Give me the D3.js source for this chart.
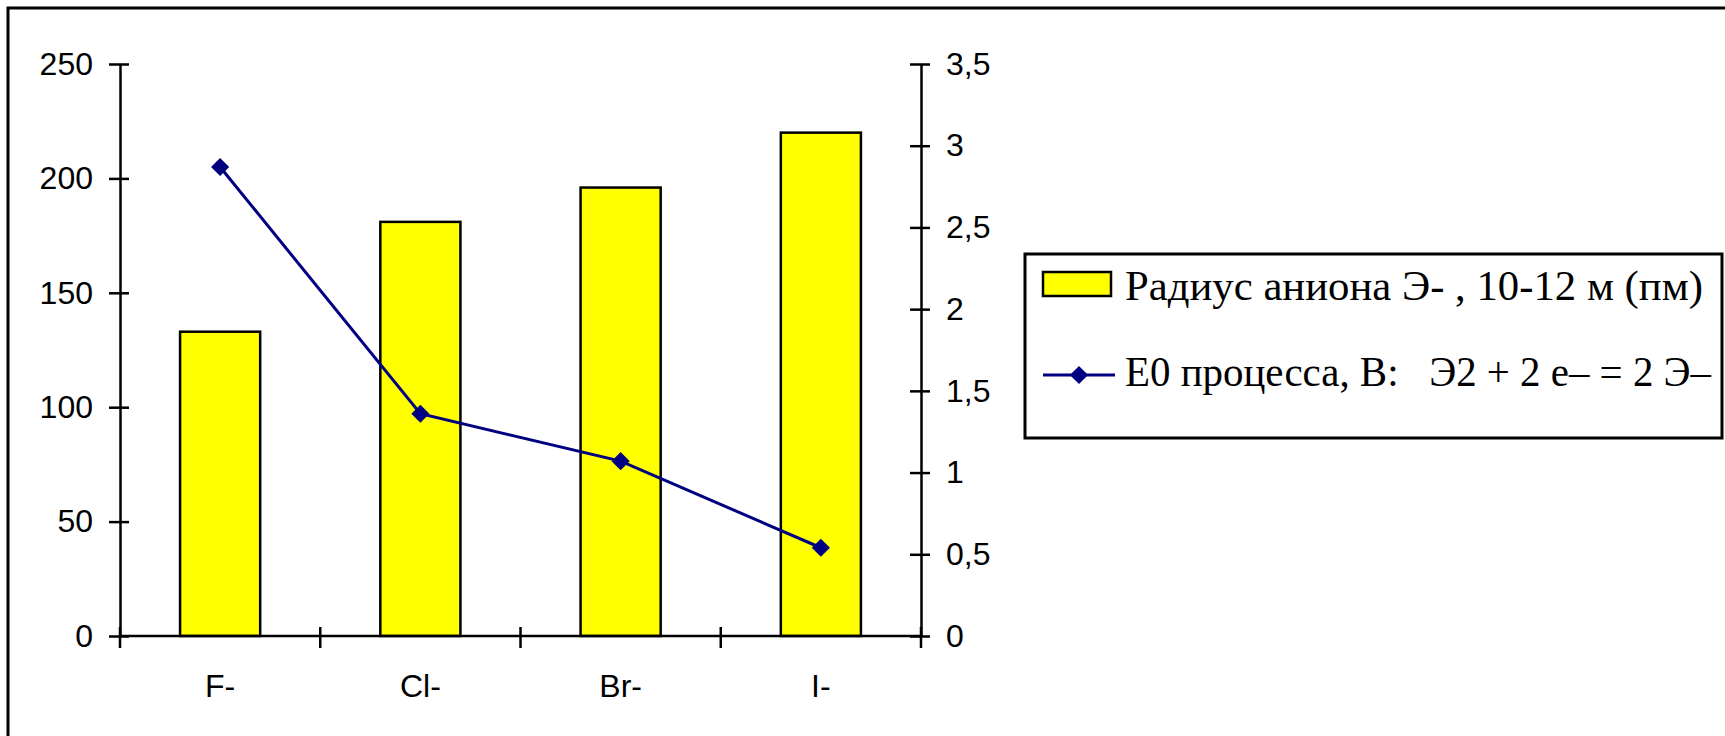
<!DOCTYPE html>
<html>
<head>
<meta charset="utf-8">
<script src="https://cdn.jsdelivr.net/npm/d3@7"></script>
<style>
  body { margin: 0; background: #fff; }
  svg { display: block; }
  .serif { font-family: 'Liberation Serif', 'DejaVu Serif', 'Times New Roman', serif; }
</style>
</head>
<body>
<script>
const categories = ['F-', 'Cl-', 'Br-', 'I-'];
const radiusValues = [133, 181, 196, 220];
const potentialValues = [2.87, 1.36, 1.07, 0.54];
const leftTicks = [0, 50, 100, 150, 200, 250];
const rightTicks = [0, 0.5, 1, 1.5, 2, 2.5, 3, 3.5];
const barLabel = 'Радиус аниона Э- , 10-12 м (пм)';
const lineLabel = 'Е0 процесса, В:   Э2 + 2 е– = 2 Э–';

const W = 1725, H = 736;
const plot = { left: 120, right: 921, top: 64, bottom: 636 };
const sans = '"Liberation Sans", Arial, sans-serif';

const svg = d3.select('body').append('svg')
  .attr('width', W)
  .attr('height', H);

// outer frame (right and bottom edges fall outside the picture)
svg.append('rect')
  .attr('x', 8).attr('y', 8)
  .attr('width', W + 20).attr('height', H + 20)
  .attr('fill', 'none')
  .attr('stroke', '#000')
  .attr('stroke-width', 3);

const x = d3.scaleBand()
  .domain(categories)
  .range([plot.left, plot.right])
  .paddingInner(0.6)
  .paddingOuter(0.3);

const yLeft = d3.scaleLinear().domain([0, 250]).range([plot.bottom, plot.top]);
const yRight = d3.scaleLinear().domain([0, 3.5]).range([plot.bottom, plot.top]);

// bars
svg.selectAll('rect.bar')
  .data(radiusValues)
  .enter()
  .append('rect')
  .attr('class', 'bar')
  .attr('x', (d, i) => x(categories[i]))
  .attr('y', d => yLeft(d))
  .attr('width', x.bandwidth())
  .attr('height', d => yLeft(0) - yLeft(d))
  .attr('fill', '#ffff00')
  .attr('stroke', '#000')
  .attr('stroke-width', 2.5);

// left axis
const leftAxis = svg.append('g')
  .attr('transform', `translate(${plot.left},0)`)
  .call(d3.axisLeft(yLeft).tickValues(leftTicks).tickSize(11).tickSizeOuter(0).tickPadding(16));
leftAxis.selectAll('.tick line').attr('x1', 9);

// right axis
const fmt = d => String(d).replace('.', ',');
const rightAxis = svg.append('g')
  .attr('transform', `translate(${plot.right},0)`)
  .call(d3.axisRight(yRight).tickValues(rightTicks).tickFormat(fmt).tickSize(9).tickSizeOuter(0).tickPadding(16));
rightAxis.selectAll('.tick line').attr('x1', -11);

// category axis: baseline, boundary ticks, labels
const step = x.step();
const bounds = d3.range(categories.length + 1).map(i => plot.left + i * step);

svg.append('line')
  .attr('x1', plot.left).attr('x2', plot.right)
  .attr('y1', yLeft(0)).attr('y2', yLeft(0))
  .attr('stroke', '#000')
  .attr('stroke-width', 2.5);

svg.selectAll('line.xtick')
  .data(bounds)
  .enter()
  .append('line')
  .attr('class', 'xtick')
  .attr('x1', d => d).attr('x2', d => d)
  .attr('y1', yLeft(0) - 9).attr('y2', yLeft(0) + 12)
  .attr('stroke', '#000')
  .attr('stroke-width', 2.5);

svg.selectAll('text.xlab')
  .data(categories)
  .enter()
  .append('text')
  .attr('class', 'xlab')
  .attr('x', d => x(d) + x.bandwidth() / 2)
  .attr('y', yLeft(0) + 61)
  .attr('text-anchor', 'middle')
  .style('font-family', sans)
  .style('font-size', '32px')
  .text(d => d);

svg.selectAll('.domain, .tick line')
  .attr('stroke', '#000')
  .attr('stroke-width', 2.5);
svg.selectAll('.tick text')
  .style('font-family', sans)
  .style('font-size', '32px')
  .attr('fill', '#000');

// line series
const cx = i => x(categories[i]) + x.bandwidth() / 2;
const line = d3.line()
  .x((d, i) => cx(i))
  .y(d => yRight(d));

svg.append('path')
  .datum(potentialValues)
  .attr('fill', 'none')
  .attr('stroke', '#000080')
  .attr('stroke-width', 3)
  .attr('d', line);

const diamond = d3.symbol().type(d3.symbolSquare).size(165);

svg.selectAll('path.marker')
  .data(potentialValues)
  .enter()
  .append('path')
  .attr('class', 'marker')
  .attr('d', diamond)
  .attr('transform', (d, i) => `translate(${cx(i)},${yRight(d)}) rotate(45)`)
  .attr('fill', '#000080');

// legend
const legend = svg.append('g').attr('transform', 'translate(1025,254)');

legend.append('rect')
  .attr('x', 0).attr('y', 0)
  .attr('width', 697).attr('height', 184)
  .attr('fill', '#fff')
  .attr('stroke', '#000')
  .attr('stroke-width', 3);

legend.append('rect')
  .attr('x', 18).attr('y', 18)
  .attr('width', 68).attr('height', 24)
  .attr('fill', '#ffff00')
  .attr('stroke', '#000')
  .attr('stroke-width', 2.5);

legend.append('text')
  .attr('class', 'serif')
  .attr('x', 100).attr('y', 46)
  .attr('textLength', 578)
  .attr('lengthAdjust', 'spacingAndGlyphs')
  .style('font-size', '42px')
  .text(barLabel);

legend.append('line')
  .attr('x1', 18).attr('x2', 90)
  .attr('y1', 121).attr('y2', 121)
  .attr('stroke', '#000080')
  .attr('stroke-width', 3);

legend.append('path')
  .attr('d', diamond)
  .attr('transform', 'translate(54,121) rotate(45)')
  .attr('fill', '#000080');

legend.append('text')
  .attr('class', 'serif')
  .attr('x', 100).attr('y', 132)
  .attr('textLength', 586)
  .attr('lengthAdjust', 'spacingAndGlyphs')
  .style('font-size', '42px')
  .style('white-space', 'pre')
  .text(lineLabel);
</script>
</body>
</html>
